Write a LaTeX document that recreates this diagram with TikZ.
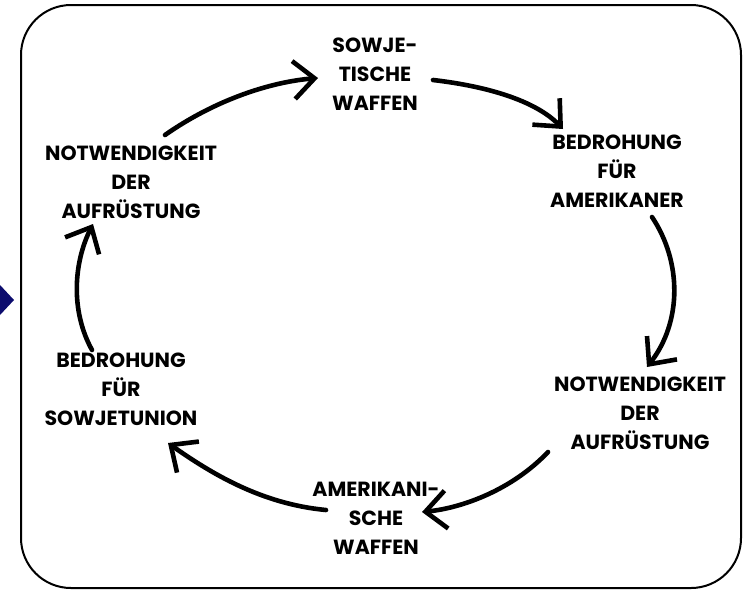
\documentclass[tikz,border=0pt]{standalone}
\usepackage{fontspec}
\setmainfont{Poppins}
\usetikzlibrary{arrows.meta}
\definecolor{navy}{RGB}{12,12,110}
\tikzset{
  label/.style={align=center, inner sep=0pt,
    font=\bfseries\fontsize{20.5}{29}\selectfont},
  cyclearrow/.style={line width=4.6pt, line cap=round, line join=round,
    -{Straight Barb[length=21pt, width=38pt, line width=4.6pt]}},
  frame/.style={line width=2pt, rounded corners=50pt}
}
\begin{document}
\begin{tikzpicture}[x=1pt, y=-1pt]
  \useasboundingbox (0,0) rectangle (746,590);
  \begin{scope}
    \clip (0,0) rectangle (746,590);
    % marker on the left edge
    \fill[navy] (-15,300) -- (0,285) -- (14,300) -- (0,315) -- cycle;
  \end{scope}
  % outer frame
  \draw[frame] (21,5) rectangle (741,588);

  % the six stages of the cycle
  \node[label] (sw)  at (375,74)  {SOWJE-\\TISCHE\\WAFFEN};
  \node[label] (ba)  at (617,171) {BEDROHUNG\\FÜR\\AMERIKANER};
  \node[label] (nr)  at (640,413) {NOTWENDIGKEIT\\DER\\AUFRÜSTUNG};
  \node[label] (aw)  at (376,518) {AMERIKANI-\\SCHE\\WAFFEN};
  \node[label] (bs)  at (121,389) {BEDROHUNG\\FÜR\\SOWJETUNION};
  \node[label] (nl)  at (131,182) {NOTWENDIGKEIT\\DER\\AUFRÜSTUNG};

  % arrow end points beside the stages
  \coordinate (nl-out) at (165,135);  \coordinate (sw-in)  at (318,78);
  \coordinate (sw-out) at (433,80);   \coordinate (ba-in)  at (563,129);
  \coordinate (ba-out) at (652,217);  \coordinate (nr-in)  at (647,367);
  \coordinate (nr-out) at (548,452);  \coordinate (aw-in)  at (422,512);
  \coordinate (aw-out) at (326,510);  \coordinate (bs-in)  at (168,443);
  \coordinate (bs-out) at (92,350);   \coordinate (nl-in)  at (93,224);

  \draw[cyclearrow] (nl-out) .. controls (215,100) and (270,82) .. (sw-in);
  \draw[cyclearrow] (sw-out) .. controls (485,86) and (535,100) .. (ba-in);
  \draw[cyclearrow] (ba-out) .. controls (682,262) and (682,322) .. (nr-in);
  \draw[cyclearrow] (nr-out) .. controls (512,490) and (462,508) .. (aw-in);
  \draw[cyclearrow] (aw-out) .. controls (262,504) and (212,474) .. (bs-in);
  \draw[cyclearrow] (bs-out) .. controls (70,310) and (74,262) .. (nl-in);
\end{tikzpicture}
\end{document}
